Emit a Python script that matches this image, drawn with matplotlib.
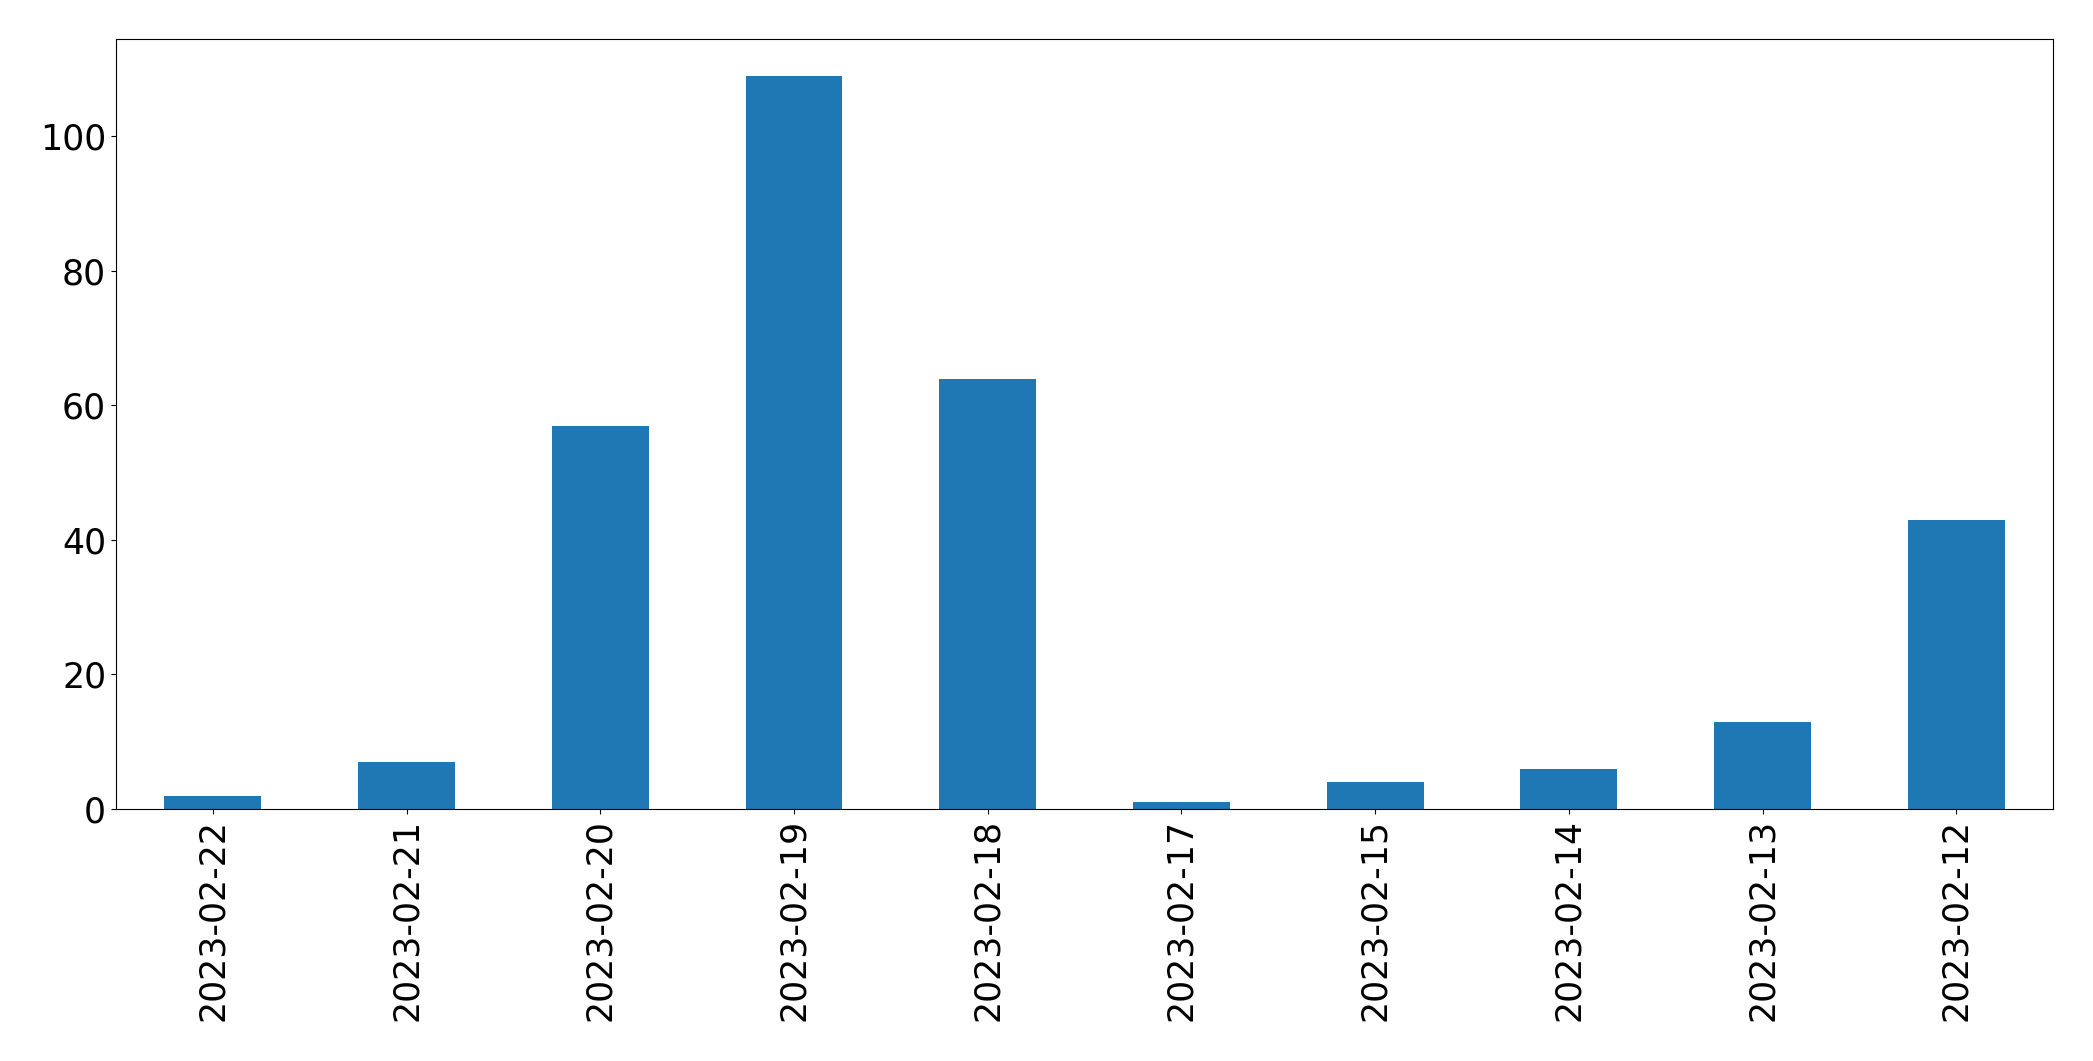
import matplotlib
matplotlib.use("Agg")
import matplotlib.pyplot as plt
import pandas as pd

dates = ["2023-02-22", "2023-02-21", "2023-02-20", "2023-02-19", "2023-02-18",
         "2023-02-17", "2023-02-15", "2023-02-14", "2023-02-13", "2023-02-12"]
counts = [2, 7, 57, 109, 64, 1, 4, 6, 13, 43]

s = pd.Series(counts, index=dates)

fig = plt.figure(figsize=(20.93, 10.61), dpi=100)
ax = fig.add_axes([0.0554, 0.2375, 0.9256, 0.7255])
s.plot.bar(ax=ax, color="#1f77b4", fontsize=25)
plt.savefig("out.png", dpi=100)
